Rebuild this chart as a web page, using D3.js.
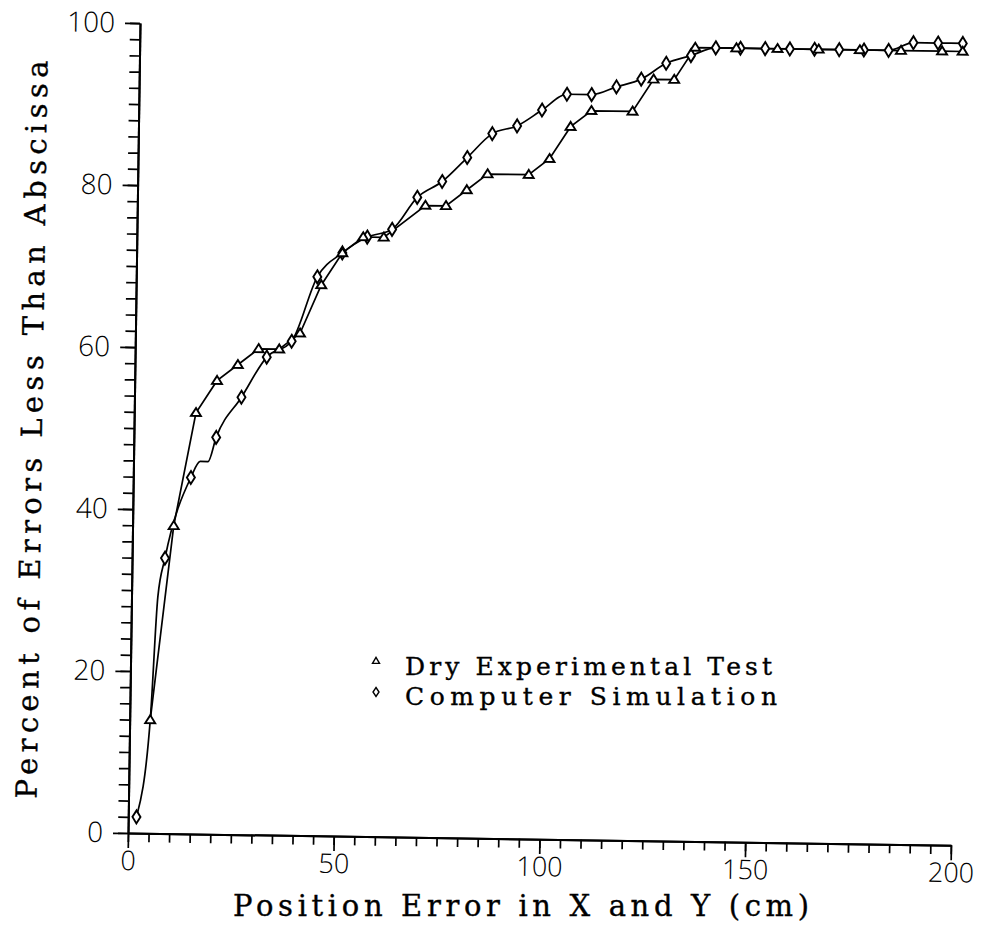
<!DOCTYPE html>
<html><head><meta charset="utf-8">
<script src="https://cdn.jsdelivr.net/npm/d3@7/dist/d3.min.js"></script>
<style>body{margin:0;background:#fff}</style>
</head><body><svg id="c" width="981" height="926"></svg>
<script>
// ---- data ----
const dryX = [5,10,15,20,25,30,35,40,45,50,55,60,70,75,80,85,95,100,105,110,120,125,130,135,145,155,165,175,185,195,200];
const dryY = [14,38,52,56,58,60,60,62,68,72,74,74,78,78,80,82,82,84,88,90,90,94,94,98,98,98,98,98,98,98,98];
const simX = [2,8,14,20,26,32,38,44,50,56,62,68,74,80,86,92,98,104,110,116,122,128,134,140,146,152,158,164,170,176,182,188,194,200];
const simY = [2,34,44,49,54,59,61,69,72,74,75,79,81,84,87,88,90,92,92,93,94,96,97,98,98,98,98,98,98,98,98,99,99,99];
// unmarked bends of the simulation curve
const simBendX = [5,6.4,16.2,18.1];
const simBendY = [14,29.2,46,46];
const yMajor = [0,20,40,60,80,100];
const xMajor = [0,50,100,150,200];
const seriesNames = ["Dry Experimental Test","Computer Simulation"];
const xTitle = "Position Error in X and Y (cm)";
const yTitle = "Percent of Errors Less Than Abscissa";

const svg = d3.select('#c');
svg.append('rect').attr('width',981).attr('height',926).attr('fill','#fff');
const x = d3.scaleLinear().domain([0,200]).range([128,951]);
const y = d3.scaleLinear().domain([0,100]).range([833,23]);
// the scanned page is tilted slightly clockwise
const g = svg.append('g').attr('transform','rotate(0.85,128,833)');

const tickFont = "'Open Sans', 'Liberation Sans', sans-serif";
const titleFont = "'DejaVu Serif', 'Liberation Serif', serif";

function styleAxis(s){
  s.select('.domain').attr('stroke','#000').attr('stroke-width',2);
  s.selectAll('.tick line').attr('stroke','#000').attr('stroke-width',1.7);
}
// y minor
g.append('g').attr('transform',`translate(${x(0)},0)`)
  .call(d3.axisLeft(y).tickValues(d3.range(0,101,2)).tickSize(10).tickSizeOuter(0).tickFormat(''))
  .call(styleAxis);
// y major
const ya = g.append('g').attr('transform',`translate(${x(0)},0)`)
  .call(d3.axisLeft(y).tickValues(yMajor).tickSize(15).tickPadding(10).tickSizeOuter(0))
  .call(styleAxis);
ya.selectAll('text').attr('font-family',tickFont).attr('font-weight',300).attr('font-size',28).attr('fill','#000');
// x minor
g.append('g').attr('transform',`translate(0,${y(0)})`)
  .call(d3.axisBottom(x).tickValues(d3.range(0,201,5)).tickSize(9).tickSizeOuter(0).tickFormat(''))
  .call(styleAxis);
const xa = g.append('g').attr('transform',`translate(0,${y(0)})`)
  .call(d3.axisBottom(x).tickValues(xMajor).tickSize(15).tickSizeOuter(0))
  .call(styleAxis);
xa.selectAll('text').attr('font-family',tickFont).attr('font-weight',300).attr('font-size',27).attr('fill','#000')
  .attr('y',37).attr('dy',0);

// lines
const dry = dryX.map((v,i)=>[v,dryY[i]]);
const sim = simX.map((v,i)=>[v,simY[i]]);
const simPath = sim.concat(simBendX.map((v,i)=>[v,simBendY[i]])).sort((a,b)=>a[0]-b[0]);
g.append('path').attr('d',d3.line().x(d=>x(d[0])).y(d=>y(d[1]))(dry))
  .attr('fill','none').attr('stroke','#000').attr('stroke-width',1.7);
g.append('path').attr('d',d3.line().x(d=>x(d[0])).y(d=>y(d[1])).curve(d3.curveMonotoneX)(simPath))
  .attr('fill','none').attr('stroke','#000').attr('stroke-width',1.7);

function tri(cx,cy,w,h){return `M${cx},${cy-h*0.6}L${cx+w/2},${cy+h*0.4}L${cx-w/2},${cy+h*0.4}Z`;}
function dia(cx,cy,w,h){return `M${cx},${cy-h/2}L${cx+w/2},${cy}L${cx},${cy+h/2}L${cx-w/2},${cy}Z`;}
g.selectAll('.sm').data(sim).enter().append('path')
  .attr('d',d=>dia(x(d[0]),y(d[1]),8,13)).attr('fill','#fff').attr('stroke','#000').attr('stroke-width',1.9);
g.selectAll('.dm').data(dry).enter().append('path')
  .attr('d',d=>tri(x(d[0]),y(d[1]),10,8)).attr('fill','#fff').attr('stroke','#000').attr('stroke-width',1.9);

// y title (rotated with the page)
const titStyle = s => s.attr('font-family',titleFont).attr('font-size',29).attr('fill','#000')
  .attr('stroke','#000').attr('stroke-width',0.35).attr('lengthAdjust','spacing');
g.append('text').attr('transform','translate(36,800) rotate(-90)').attr('textLength',738).call(titStyle).text(yTitle);

// legend and x title (page coordinates)
svg.append('path').attr('d',tri(376,661,7,6)).attr('fill','#fff').attr('stroke','#000').attr('stroke-width',1.4);
svg.append('path').attr('d',dia(376,692,6,9)).attr('fill','#fff').attr('stroke','#000').attr('stroke-width',1.4);
const legStyle = s => s.attr('font-family',titleFont).attr('font-size',25).attr('fill','#000')
  .attr('stroke','#000').attr('stroke-width',0.35).attr('lengthAdjust','spacing');
svg.append('text').attr('x',405).attr('y',675).attr('textLength',367).call(legStyle).text(seriesNames[0]);
svg.append('text').attr('x',405).attr('y',705).attr('textLength',372).call(legStyle).text(seriesNames[1]);
svg.append('text').attr('x',233).attr('y',916).attr('textLength',576).call(titStyle).text(xTitle);
</script></body></html>
